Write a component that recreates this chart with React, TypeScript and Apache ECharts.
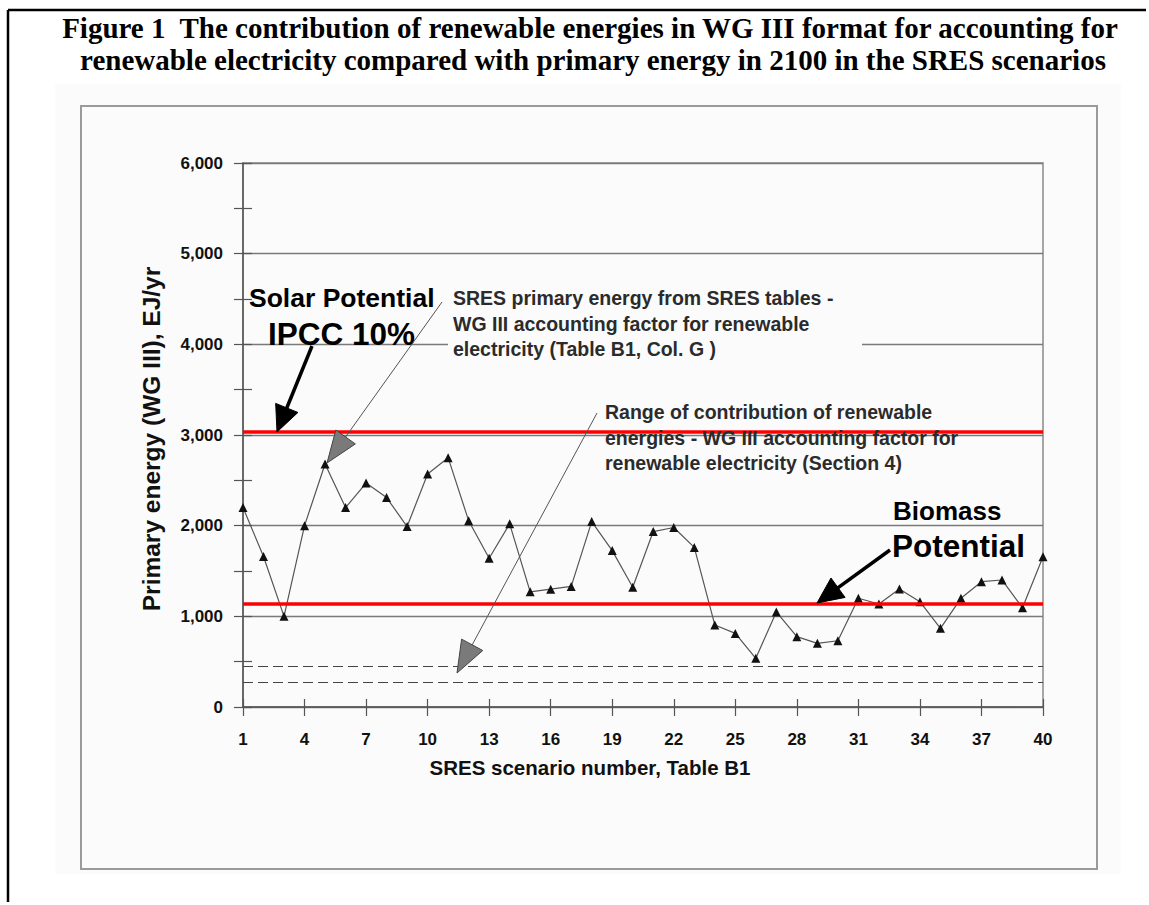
import React, { useEffect, useRef } from "react";
import * as echarts from "echarts";

// ---------- data ----------
const scenarios = [
  "1", "2", "3", "4", "5", "6", "7", "8", "9", "10",
  "11", "12", "13", "14", "15", "16", "17", "18", "19", "20",
  "21", "22", "23", "24", "25", "26", "27", "28", "29", "30",
  "31", "32", "33", "34", "35", "36", "37", "38", "39", "40",
];
const primaryEnergy = [
  2200, 1660, 1000, 2000, 2680, 2200, 2470, 2310, 1990, 2570,
  2750, 2055, 1640, 2020, 1270, 1300, 1330, 2045, 1725, 1320,
  1935, 1980, 1760, 905, 812, 537, 1048, 776, 702, 731,
  1199, 1136, 1301, 1162, 868, 1199, 1382, 1401, 1095, 1658,
];
const solarPotential = 3040;
const biomassPotential = 1140;
const rangeUpper = 450;
const rangeLower = 270;
const yMin = 0;
const yMax = 6000;
const yInterval = 1000;

const titleLines = [
  "Figure 1  The contribution of renewable energies in WG III format for accounting for",
  "renewable electricity compared with primary energy in 2100 in the SRES scenarios",
];
const sresNote = [
  "SRES primary energy from SRES tables -",
  "WG III accounting factor for renewable",
  "electricity (Table B1, Col. G )",
];
const rangeNote = [
  "Range of contribution of renewable",
  "energies - WG III accounting factor for",
  "renewable electricity (Section 4)",
];

const SANS = "'Liberation Sans', Arial, sans-serif";
const SERIF = "'Liberation Serif', 'Times New Roman', serif";

function arrow(
  x0: number, y0: number, x1: number, y1: number,
  headLen: number, headHalf: number, width: number,
  lineColor: string, headFill: string, headStroke: string, z: number
) {
  const dx = x1 - x0;
  const dy = y1 - y0;
  const len = Math.sqrt(dx * dx + dy * dy);
  const ux = dx / len;
  const uy = dy / len;
  const bx = x1 - ux * headLen;
  const by = y1 - uy * headLen;
  const px = -uy;
  const py = ux;
  return [
    {
      type: "line",
      z,
      shape: { x1: x0, y1: y0, x2: bx + ux * 2, y2: by + uy * 2 },
      style: { stroke: lineColor, lineWidth: width },
    },
    {
      type: "polygon",
      z,
      shape: {
        points: [
          [x1, y1],
          [bx + px * headHalf, by + py * headHalf],
          [bx - px * headHalf, by - py * headHalf],
        ],
      },
      style: { fill: headFill, stroke: headStroke, lineWidth: 1 },
    },
  ];
}

export default function App() {
  const ref = useRef<HTMLDivElement>(null);

  useEffect(() => {
    if (!ref.current) return;
    const chart = echarts.init(ref.current, undefined, { renderer: "svg" });

    const axisColor = "#555";
    const bg = "#fbfbfb";

    const graphic: any[] = [
      // page border (top and left)
      { type: "line", z: 10, shape: { x1: 8, y1: 10, x2: 1146, y2: 10 }, style: { stroke: "#000", lineWidth: 2.5 } },
      { type: "line", z: 10, shape: { x1: 8, y1: 10, x2: 8, y2: 902 }, style: { stroke: "#000", lineWidth: 2.5 } },
      // scanned figure background + frame
      { type: "rect", z: -5, shape: { x: 55, y: 84, width: 1066, height: 790 }, style: { fill: bg } },
      { type: "rect", z: -4, shape: { x: 81, y: 106, width: 1016, height: 763 }, style: { fill: "transparent", stroke: "#9a9a9a", lineWidth: 2 } },
      // title
      {
        type: "text", z: 10, x: 590, y: 28,
        style: { text: titleLines[0], font: `bold 29px ${SERIF}`, fill: "#000", align: "center", verticalAlign: "middle" },
      },
      {
        type: "text", z: 10, x: 593, y: 60,
        style: { text: titleLines[1], font: `bold 29px ${SERIF}`, fill: "#000", align: "center", verticalAlign: "middle" },
      },
      // SRES note box hiding gridline
      { type: "rect", z: 5, shape: { x: 448, y: 284, width: 414, height: 78 }, style: { fill: bg } },
      ...sresNote.map((t, i) => ({
        type: "text", z: 6, x: 453, y: 298 + i * 25.5,
        style: { text: t, font: `bold 19.5px ${SANS}`, fill: "#2b2b2b", align: "left", verticalAlign: "middle" },
      })),
      ...rangeNote.map((t, i) => ({
        type: "text", z: 6, x: 605, y: 412 + i * 25.5,
        style: { text: t, font: `bold 19.5px ${SANS}`, fill: "#2b2b2b", align: "left", verticalAlign: "middle" },
      })),
      // Solar potential label
      { type: "text", z: 6, x: 249, y: 298, style: { text: "Solar Potential", font: `bold 26.5px ${SANS}`, fill: "#000", align: "left", verticalAlign: "middle" } },
      { type: "text", z: 6, x: 268, y: 334, style: { text: "IPCC 10%", font: `bold 31.5px ${SANS}`, fill: "#000", align: "left", verticalAlign: "middle" } },
      // Biomass potential label
      { type: "text", z: 6, x: 893, y: 511, style: { text: "Biomass", font: `bold 26px ${SANS}`, fill: "#000", align: "left", verticalAlign: "middle" } },
      { type: "text", z: 6, x: 892, y: 546, style: { text: "Potential", font: `bold 31.5px ${SANS}`, fill: "#000", align: "left", verticalAlign: "middle" } },
      // thick arrows
      ...arrow(312, 346, 277, 432, 26, 12, 3.5, "#000", "#000", "#000", 7),
      ...arrow(890, 550, 817, 603, 26, 12, 3.5, "#000", "#000", "#000", 7),
      // thin pointer lines with hatched heads
      ...arrow(442, 302, 327, 463, 32, 12, 1, "#555", "#7a7a7a", "#444", 7),
      ...arrow(597, 413, 457, 673, 32, 12, 1, "#555", "#7a7a7a", "#444", 7),
    ];

    chart.setOption({
      animation: false,
      backgroundColor: "#ffffff",
      grid: {
        left: 243, right: 106, top: 163, bottom: 198,
        show: true, borderColor: "#8a8a8a", borderWidth: 1.5, backgroundColor: "transparent",
      },
      xAxis: [
        {
          type: "category",
          data: scenarios,
          boundaryGap: false,
          axisLine: { show: true, lineStyle: { color: axisColor, width: 1.5 } },
          axisTick: { show: true, interval: 2, length: 9, lineStyle: { color: axisColor, width: 1.2 } },
          axisLabel: {
            interval: 2, color: "#111", fontFamily: SANS, fontWeight: "bold", fontSize: 17, margin: 24,
          },
          splitLine: { show: false },
          name: "SRES scenario number, Table B1",
          nameLocation: "middle",
          nameGap: 50,
          nameTextStyle: {
            color: "#111", fontFamily: SANS, fontWeight: "bold", fontSize: 20.5,
            padding: [0, 106, 0, 0],
          },
        },
        {
          type: "category",
          data: scenarios,
          boundaryGap: false,
          position: "bottom",
          axisLine: { show: false },
          axisTick: { show: true, inside: true, interval: 2, length: 8, lineStyle: { color: axisColor, width: 1.2 } },
          axisLabel: { show: false },
          splitLine: { show: false },
        },
      ],
      yAxis: [
        {
          type: "value",
          min: yMin, max: yMax, interval: yInterval,
          axisLine: { show: true, lineStyle: { color: axisColor, width: 1.5 } },
          axisTick: { show: true, length: 9, lineStyle: { color: axisColor, width: 1.2 } },
          minorTick: { show: true, splitNumber: 2, length: 9, lineStyle: { color: axisColor, width: 1.2 } },
          splitLine: { show: true, lineStyle: { color: "#7a7a7a", width: 1.3 } },
          axisLabel: {
            color: "#111", fontFamily: SANS, fontWeight: "bold", fontSize: 17, margin: 20,
            formatter: (v: number) => v.toLocaleString("en-US"),
          },
          name: "Primary energy (WG III), EJ/yr",
          nameLocation: "middle",
          nameGap: 79,
          nameTextStyle: {
            color: "#111", fontFamily: SANS, fontWeight: "bold", fontSize: 24.5,
            padding: [0, 8, 0, 0],
          },
        },
        {
          type: "value",
          min: yMin, max: yMax, interval: yInterval,
          position: "left",
          axisLine: { show: false },
          axisTick: { show: true, inside: true, length: 9, lineStyle: { color: axisColor, width: 1.2 } },
          minorTick: { show: true, splitNumber: 2, length: 9, lineStyle: { color: axisColor, width: 1.2 } },
          splitLine: { show: false },
          axisLabel: { show: false },
        },
      ],
      series: [
        {
          type: "line",
          name: "SRES primary energy",
          data: primaryEnergy,
          xAxisIndex: 0,
          yAxisIndex: 0,
          symbol: "triangle",
          symbolSize: 9,
          lineStyle: { color: "#555", width: 1.2 },
          itemStyle: { color: "#111" },
          z: 3,
          markLine: {
            silent: true,
            symbol: "none",
            label: { show: false },
            data: [
              { yAxis: solarPotential, lineStyle: { color: "#ff0000", width: 3.5, type: "solid" } },
              { yAxis: biomassPotential, lineStyle: { color: "#ff0000", width: 3.5, type: "solid" } },
              { yAxis: rangeUpper, lineStyle: { color: "#444", width: 1.2, type: [10, 5] } },
              { yAxis: rangeLower, lineStyle: { color: "#444", width: 1.2, type: [10, 5] } },
            ],
          },
        },
      ],
      graphic,
    });

    return () => chart.dispose();
  }, []);

  return (
    <div
      ref={ref}
      style={{ position: "fixed", left: 0, top: 0, width: 1149, height: 905, background: "#fff" }}
    />
  );
}
